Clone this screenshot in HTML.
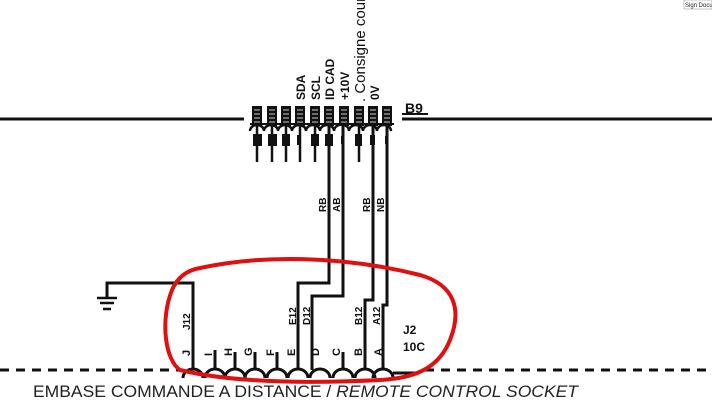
<!DOCTYPE html>
<html><head><meta charset="utf-8"><style>
body{margin:0;background:#fff;width:712px;height:400px;overflow:hidden}
svg{display:block}
text{font-family:"Liberation Sans",sans-serif}
</style></head><body>
<svg width="712" height="400" viewBox="0 0 712 400" xmlns="http://www.w3.org/2000/svg">
<g stroke="#111" fill="none" stroke-width="3">
<line x1="0" y1="119" x2="244" y2="119"/>
<line x1="402" y1="119" x2="712" y2="119"/>
<line x1="402" y1="114" x2="428" y2="114" stroke-width="2"/>
</g>
<text x="405" y="113" font-size="14" font-weight="bold" fill="#111">B9</text>
<g fill="#111">
<path d="M250 124 H394" stroke="#111" stroke-width="2"/>
</g>
<g id="pins">
<g fill="#111" stroke="none">
<rect x="252" y="106" width="10" height="20"/><rect x="267" y="106" width="10" height="20"/><rect x="281" y="106" width="10" height="20"/><rect x="295" y="106" width="10" height="20"/><rect x="310" y="106" width="10" height="20"/><rect x="324" y="106" width="10" height="20"/><rect x="339" y="106" width="10" height="20"/><rect x="354" y="106" width="10" height="20"/><rect x="368" y="106" width="10" height="20"/><rect x="382" y="106" width="10" height="20"/>
</g>
<g stroke="#ccc" stroke-width="1">
<path d="M254 110h6M254 114h6M254 118h6M254 122h6 M269 110h6M269 114h6M269 118h6M269 122h6 M283 110h6M283 114h6M283 118h6M283 122h6 M297 110h6M297 114h6M297 118h6M297 122h6 M312 110h6M312 114h6M312 118h6M312 122h6 M326 110h6M326 114h6M326 118h6M326 122h6 M341 110h6M341 114h6M341 118h6M341 122h6 M356 110h6M356 114h6M356 118h6M356 122h6 M370 110h6M370 114h6M370 118h6M370 122h6 M384 110h6M384 114h6M384 118h6M384 122h6"/>
</g>
<g stroke="#111" stroke-width="2.5" fill="none">
<path d="M250 131 a7 6 0 0 1 14 0 a7 6 0 0 1 14 0 a7 6 0 0 1 14 0 a7 6 0 0 1 14 0 a7 6 0 0 1 14 0 a7 6 0 0 1 14 0 a7 6 0 0 1 15 0 a7 6 0 0 1 14 0 a7 6 0 0 1 14 0 a7 6 0 0 1 14 0"/>
<path d="M257 126V162M272 126V162M286 126V162M300 126V162M315 126V162M359 126V162"/>
</g>
<g fill="#111" stroke="none">
<rect x="253" y="134" width="9" height="12"/><rect x="268" y="134" width="9" height="12"/><rect x="282" y="134" width="8" height="12"/><rect x="297" y="135" width="4" height="10"/><rect x="311" y="134" width="8" height="12"/><rect x="325" y="134" width="8" height="12"/><rect x="341" y="136" width="3" height="8"/><rect x="355" y="134" width="7" height="12"/><rect x="370" y="135" width="5" height="10"/><rect x="385" y="136" width="3" height="8"/>
</g>
</g>
<g font-size="12" font-weight="bold" fill="#111">
<text transform="translate(305,100) rotate(-90)">SDA</text>
<text transform="translate(320,100) rotate(-90)">SCL</text>
<text transform="translate(334,100) rotate(-90)">ID CAD</text>
<text transform="translate(349,100) rotate(-90)">+10V</text>
<text transform="translate(379,100) rotate(-90)">0V</text>
</g>
<text transform="translate(365,102) rotate(-90)" font-size="15" fill="#111">. Consigne cour</text>
<g stroke="#111" stroke-width="3" fill="none">
<path d="M329 126V283H298V370"/>
<path d="M343 126V296H312V370"/>
<path d="M373 126V300H365V370"/>
<path d="M387 126V305H383V370"/>
<path d="M193 370V283H107V298"/>
<path d="M215 370V350M235 370V352M255 370V352M277 370V352M343 370V352"/>
</g>
<g stroke="#111" stroke-width="2.5">
<path d="M97 298H117M100 303H114M103 309H111"/>
</g>
<g fill="#111" font-size="10" font-weight="bold">
<text transform="translate(326,212) rotate(-90)">RB</text>
<text transform="translate(340,212) rotate(-90)">AB</text>
<text transform="translate(370,212) rotate(-90)">RB</text>
<text transform="translate(384,212) rotate(-90)">NB</text>
<text transform="translate(190,330) rotate(-90)">J12</text>
<text transform="translate(296,325) rotate(-90)">E12</text>
<text transform="translate(310,325) rotate(-90)">D12</text>
<text transform="translate(362,325) rotate(-90)">B12</text>
<text transform="translate(380,325) rotate(-90)">A12</text>
</g>
<g fill="#111" font-size="11" font-weight="bold">
<text transform="translate(190,356) rotate(-90)">J</text>
<text transform="translate(212,356) rotate(-90)">I</text>
<text transform="translate(232,356) rotate(-90)">H</text>
<text transform="translate(252,356) rotate(-90)">G</text>
<text transform="translate(274,356) rotate(-90)">F</text>
<text transform="translate(295,356) rotate(-90)">E</text>
<text transform="translate(319,356) rotate(-90)">D</text>
<text transform="translate(340,356) rotate(-90)">C</text>
<text transform="translate(362,356) rotate(-90)">B</text>
<text transform="translate(382,356) rotate(-90)">A</text>
</g>
<text x="403" y="334" font-size="12" font-weight="bold" fill="#111">J2</text>
<text x="403" y="351" font-size="12" font-weight="bold" fill="#111">10C</text>
<g stroke="#111" stroke-width="3" fill="none">
<path d="M183 378 a10 9 0 0 1 20 0 M205 378 a10 9 0 0 1 20 0 M225 378 a10 9 0 0 1 20 0 M245 378 a10 9 0 0 1 20 0 M267 378 a10 9 0 0 1 20 0 M288 378 a10 9 0 0 1 20 0 M310 378 a10 9 0 0 1 20 0 M333 378 a10 9 0 0 1 20 0 M355 378 a10 9 0 0 1 20 0 M373 378 a10 9 0 0 1 20 0"/>
<path d="M0 370H180" stroke-dasharray="9,7"/>
<path d="M393 373H418"/>
<path d="M425 370H712" stroke-dasharray="9,7"/>
</g>
<text x="33" y="397" font-size="17" fill="#222" textLength="545" lengthAdjust="spacingAndGlyphs">EMBASE COMMANDE A DISTANCE / <tspan font-style="italic">REMOTE CONTROL SOCKET</tspan></text>
<path d="M200 268 C260 255 340 255 420 275 C455 285 462 310 450 340 C440 365 420 378 380 380 C300 384 230 382 180 370 C165 360 160 320 172 290 C178 276 188 270 200 268 Z" stroke="#e01010" stroke-width="4" fill="none"/>
<rect x="684" y="0" width="28" height="9" fill="#fff" stroke="#888" stroke-width="0.5"/>
<text x="685" y="7" font-size="6" fill="#222">Sign Docu</text>
</svg>
</body></html>
